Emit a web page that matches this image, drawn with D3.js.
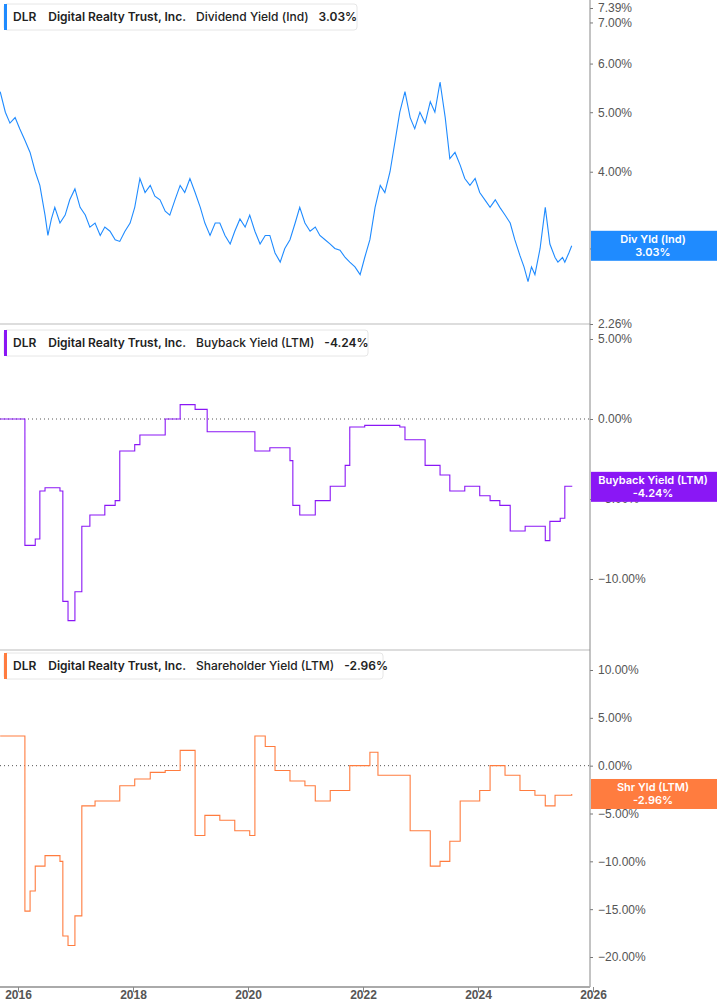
<!DOCTYPE html><html><head><meta charset="utf-8"><script src="https://cdn.jsdelivr.net/npm/d3@7"></script>
<style>body{margin:0;background:#fff;font-family:Inter,"Noto Sans",sans-serif}</style></head><body><svg id="c" width="717" height="1005"></svg>
<script>
const yearTicks=[2016,2018,2020,2022,2024,2026];
const divTicks=[2.26,3,4,5,6,7,7.39];
const bbTicks=[5,0,-5,-10];
const shTicks=[10,5,0,-5,-10,-15,-20];
const divYield=[[2015.69,5.4],[2015.78,5.0],[2015.86,4.8],[2015.95,4.9],[2016.03,4.7],[2016.12,4.5],[2016.21,4.3],[2016.3,4.0],[2016.38,3.8],[2016.47,3.4],[2016.52,3.15],[2016.58,3.35],[2016.64,3.5],[2016.73,3.3],[2016.82,3.4],[2016.9,3.6],[2016.99,3.75],[2017.08,3.5],[2017.17,3.4],[2017.25,3.25],[2017.34,3.3],[2017.43,3.15],[2017.51,3.25],[2017.6,3.2],[2017.69,3.1],[2017.77,3.08],[2017.86,3.2],[2017.95,3.3],[2018.03,3.5],[2018.12,3.9],[2018.21,3.7],[2018.3,3.8],[2018.38,3.65],[2018.47,3.6],[2018.56,3.45],[2018.64,3.4],[2018.73,3.6],[2018.82,3.8],[2018.9,3.7],[2018.99,3.9],[2019.08,3.7],[2019.17,3.5],[2019.25,3.3],[2019.34,3.15],[2019.43,3.3],[2019.51,3.3],[2019.6,3.15],[2019.69,3.05],[2019.77,3.2],[2019.86,3.35],[2019.95,3.25],[2020.03,3.4],[2020.12,3.2],[2020.21,3.05],[2020.3,3.15],[2020.38,3.15],[2020.47,2.95],[2020.56,2.85],[2020.64,3.0],[2020.73,3.1],[2020.82,3.3],[2020.9,3.5],[2020.99,3.3],[2021.08,3.2],[2021.17,3.25],[2021.25,3.15],[2021.34,3.1],[2021.43,3.05],[2021.51,3.0],[2021.6,2.98],[2021.69,2.9],[2021.77,2.85],[2021.86,2.8],[2021.95,2.72],[2022.03,2.9],[2022.12,3.1],[2022.21,3.5],[2022.3,3.8],[2022.38,3.7],[2022.47,4.0],[2022.56,4.5],[2022.64,5.0],[2022.73,5.4],[2022.82,4.9],[2022.9,4.7],[2022.99,5.0],[2023.08,4.8],[2023.17,5.2],[2023.25,5.0],[2023.34,5.6],[2023.43,4.9],[2023.51,4.2],[2023.6,4.3],[2023.69,4.1],[2023.77,3.9],[2023.86,3.8],[2023.95,3.9],[2024.03,3.7],[2024.12,3.6],[2024.21,3.5],[2024.3,3.6],[2024.38,3.5],[2024.47,3.4],[2024.56,3.3],[2024.64,3.1],[2024.73,2.92],[2024.8,2.8],[2024.87,2.65],[2024.93,2.8],[2024.99,2.72],[2025.08,3.0],[2025.17,3.5],[2025.25,3.05],[2025.34,2.9],[2025.39,2.85],[2025.47,2.9],[2025.51,2.85],[2025.58,2.95],[2025.63,3.03]];
const buyback=[[2015.69,0],[2016.12,-7.9],[2016.3,-7.5],[2016.38,-4.5],[2016.47,-4.3],[2016.73,-4.5],[2016.78,-11.4],[2016.87,-12.6],[2016.99,-10.8],[2017.11,-6.7],[2017.25,-6.0],[2017.51,-5.4],[2017.69,-5.1],[2017.77,-2.0],[2018.03,-1.6],[2018.12,-1.0],[2018.56,0],[2018.82,0.9],[2019.08,0.6],[2019.29,-0.8],[2019.86,-0.8],[2020.12,-2.0],[2020.38,-1.8],[2020.73,-2.6],[2020.78,-5.4],[2020.9,-6.0],[2021.17,-5.1],[2021.43,-4.2],[2021.69,-2.9],[2021.77,-0.5],[2022.03,-0.4],[2022.64,-0.5],[2022.73,-1.3],[2023.08,-2.9],[2023.34,-3.5],[2023.51,-4.5],[2023.77,-4.2],[2024.03,-4.8],[2024.21,-5.1],[2024.38,-5.4],[2024.56,-7.0],[2024.82,-6.7],[2025.17,-7.6],[2025.25,-6.4],[2025.43,-6.2],[2025.51,-4.2],[2025.63,-4.24]];
const shareholder=[[2015.69,3.1],[2016.12,-15.2],[2016.21,-13.1],[2016.3,-10.5],[2016.47,-9.4],[2016.73,-10.0],[2016.78,-17.8],[2016.87,-18.8],[2016.99,-15.7],[2017.11,-4.2],[2017.34,-3.7],[2017.77,-2.1],[2018.03,-1.4],[2018.3,-0.7],[2018.56,-0.5],[2018.82,1.6],[2019.08,-7.3],[2019.25,-5.2],[2019.51,-5.7],[2019.77,-6.8],[2020.03,-7.3],[2020.12,3.1],[2020.3,2.0],[2020.47,-0.5],[2020.73,-1.6],[2020.99,-2.1],[2021.17,-3.7],[2021.43,-2.6],[2021.77,0],[2022.12,1.4],[2022.26,-1.0],[2022.82,-6.8],[2023.17,-10.5],[2023.34,-10.0],[2023.51,-7.9],[2023.69,-3.7],[2024.03,-2.6],[2024.21,0],[2024.47,-1.0],[2024.73,-2.6],[2024.99,-3.1],[2025.17,-4.2],[2025.34,-3.1],[2025.63,-2.96]];

const svg=d3.select("#c");
const AX=590;
const x=d3.scaleLinear().domain([2016,2026]).range([18,593]);
const panels=[
 {data:divYield,y:d3.scaleLog().domain([2.26,7.39]).range([324,8]),ticks:divTicks,col:"#1f8bff",curve:d3.curveLinear,
  leg:["Dividend Yield (Ind)","3.03%"],lw:353,ly:4,tag:["Div Yld (Ind)","3.03%"],top:0,zero:false},
 {data:buyback,y:d3.scaleLinear().domain([0,5]).range([419,339]),ticks:bbTicks,col:"#8a17f5",curve:d3.curveStepAfter,
  leg:["Buyback Yield (LTM)","-4.24%"],lw:364,ly:330,tag:["Buyback Yield (LTM)","-4.24%"],top:324,zero:true},
 {data:shareholder,y:d3.scaleLinear().domain([10,-20]).range([670,957]),ticks:shTicks,col:"#ff7c3f",curve:d3.curveStepAfter,
  leg:["Shareholder Yield (LTM)","-2.96%"],lw:379,ly:653,tag:["Shr Yld (LTM)","-2.96%"],top:650,zero:true}
];
panels.forEach(p=>{
  const g=svg.append("g");
  if(p.top>0) g.append("line").attr("x1",0).attr("x2",AX).attr("y1",p.top).attr("y2",p.top).attr("stroke","#bbb");
  if(p.zero) g.append("line").attr("x1",0).attr("x2",AX).attr("y1",p.y(0)).attr("y2",p.y(0)).attr("stroke","#555").attr("stroke-dasharray","1,3");
  const ax=g.append("g").attr("transform",`translate(${AX},0)`).call(d3.axisRight(p.y).tickValues(p.ticks).tickSize(3).tickFormat(d=>d3.format(".2f")(d)+"%"));
  ax.select(".domain").remove();
  ax.selectAll("text").attr("fill","#555").attr("font-size",12).attr("x",8);
  ax.selectAll("line").attr("stroke","#777");
  g.append("path").datum(p.data).attr("fill","none").attr("stroke",p.col).attr("stroke-width",1.1)
   .attr("d",d3.line().x(d=>x(d[0])).y(d=>p.y(d[1])).curve(p.curve));
  const last=p.data[p.data.length-1];const ty=p.y(last[1]);
  g.append("rect").attr("x",AX+1).attr("y",ty-15).attr("width",717-AX).attr("height",30).attr("fill",p.col);
  g.append("text").attr("x",AX+63).attr("y",ty-3).attr("text-anchor","middle").attr("fill","#fff").attr("font-size",11).attr("font-weight",600).text(p.tag[0]);
  g.append("text").attr("x",AX+63).attr("y",ty+10).attr("text-anchor","middle").attr("fill","#fff").attr("font-size",11).attr("font-weight",600).text(p.tag[1]);
  g.append("rect").attr("x",4).attr("y",p.ly).attr("width",p.lw).attr("height",26).attr("rx",3).attr("fill","#fff").attr("stroke","#e6e6e6");
  g.append("rect").attr("x",4).attr("y",p.ly).attr("width",3).attr("height",26).attr("fill",p.col);
  const t=g.append("text").attr("x",13).attr("y",p.ly+17).attr("font-size",12).attr("font-weight",600).attr("fill","#222");
  t.append("tspan").text("DLR");
  t.append("tspan").attr("dx",12).text("Digital Realty Trust, Inc.");
  t.append("tspan").attr("dx",10).attr("font-weight",500).text(p.leg[0]);
  t.append("tspan").attr("dx",10).text(p.leg[1]);
});
svg.append("line").attr("x1",AX).attr("x2",AX).attr("y1",0).attr("y2",987).attr("stroke","#888");
const xa=svg.append("g").attr("transform","translate(0,987)").call(d3.axisBottom(x).tickValues(yearTicks).tickSize(5).tickFormat(d3.format("d")));
xa.select(".domain").attr("d","M0,0H"+AX).attr("stroke","#aaa").attr("stroke-width",2);
xa.selectAll("line").attr("stroke","#888");
xa.selectAll("text").attr("fill","#555").attr("font-size",12).attr("font-weight",600).attr("y",3).attr("dy","0.71em");
</script></body></html>
